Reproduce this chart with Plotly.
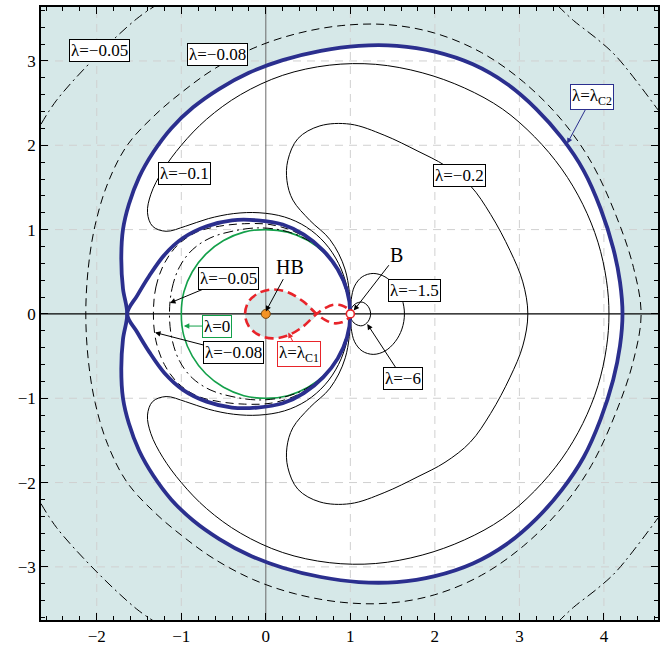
import plotly.graph_objects as go

# ---- axes -------------------------------------------------------------
x_range = [-2.66, 4.64]
y_range = [-3.63, 3.64]
x_ticks = [-2, -1, 0, 1, 2, 3, 4]
y_ticks = [-3, -2, -1, 0, 1, 2, 3]

# ---- level curves (upper halves; every curve is symmetric in y) -------
# lambda = lambda_c2, outer loop: saddle -> over the top -> right axis
c2_outer_x = [-1.64, -1.69, -1.71, -1.69, -1.62, -1.50, -1.33, -1.12, -0.86, -0.55, -0.2,
              0.2, 0.65, 1.1, 1.55, 2.0, 2.45, 2.85, 3.2, 3.5, 3.76, 3.96, 4.11, 4.19, 4.22]
c2_outer_y = [0.0, 0.3, 0.65, 1.0, 1.3, 1.62, 1.92, 2.2, 2.45, 2.67, 2.86,
              3.01, 3.12, 3.18, 3.18, 3.11, 2.96, 2.73, 2.43, 2.09, 1.7, 1.25, 0.78, 0.38, 0.0]
# lambda = lambda_c2, inner loop: saddle -> top -> B
c2_inner_x = [-1.64, -1.52, -1.38, -1.2, -0.98, -0.7, -0.4, -0.1, 0.2, 0.45, 0.68, 0.85, 0.96, 1.0]
c2_inner_y = [0.0, 0.22, 0.45, 0.7, 0.9, 1.04, 1.11, 1.11, 1.06, 0.94, 0.75, 0.53, 0.28, 0.0]

# lambda = 0 (unit circle)
l0_x = [-1.0, -0.97, -0.87, -0.71, -0.5, -0.26, 0.0, 0.26, 0.5, 0.71, 0.87, 0.97, 1.0]
l0_y = [0.0, 0.26, 0.5, 0.71, 0.87, 0.97, 1.0, 0.97, 0.87, 0.71, 0.5, 0.26, 0.0]

# lambda = -0.05 / -0.08, inner branches (left axis -> top -> B)
l005_in_x = [-1.14, -1.11, -1.02, -0.87, -0.66, -0.4, -0.1, 0.2, 0.47, 0.7, 0.87, 0.97, 1.0]
l005_in_y = [0.0, 0.3, 0.56, 0.76, 0.9, 0.98, 1.02, 0.99, 0.89, 0.72, 0.5, 0.25, 0.0]
l008_in_x = [-1.33, -1.3, -1.2, -1.04, -0.82, -0.55, -0.25, 0.05, 0.33, 0.58, 0.79, 0.93, 1.0]
l008_in_y = [0.0, 0.32, 0.6, 0.82, 0.97, 1.04, 1.07, 1.06, 0.98, 0.83, 0.61, 0.33, 0.0]

# lambda = -0.08, outer branch (left axis -> right axis)
l008_out_x = [-2.13, -2.1, -2.02, -1.87, -1.64, -1.31, -0.98, -0.62, -0.15, 0.35, 0.9,
              1.45, 2.0, 2.55, 3.05, 3.5, 3.85, 4.15, 4.35, 4.44]
l008_out_y = [0.0, 0.55, 1.05, 1.55, 2.0, 2.36, 2.64, 2.9, 3.15, 3.32, 3.42,
              3.43, 3.33, 3.1, 2.75, 2.3, 1.8, 1.15, 0.55, 0.0]

# lambda = -0.05, outer branch: only the arcs in the corners are in view
l005_out_tl_x = [-2.66, -2.475, -2.0, -1.528, -1.30]
l005_out_tl_y = [2.25, 2.535, 3.06, 3.50, 3.66]
l005_out_tr_x = [3.45, 3.64, 3.92, 4.15, 4.64]
l005_out_tr_y = [3.66, 3.48, 3.26, 3.05, 2.42]

# lambda = -0.1 (right axis -> top -> left bend -> along inner loop -> B)
l01_x = [4.06, 4.03, 3.93, 3.75, 3.5, 3.18, 2.8, 2.35, 1.85, 1.3, 0.75, 0.2, -0.3, -0.7,
         -1.0, -1.22, -1.36, -1.4, -1.34, -1.18, -0.95, -0.68, -0.38, -0.08, 0.22, 0.48,
         0.7, 0.86, 0.96, 1.0]
l01_y = [0.0, 0.4, 0.85, 1.3, 1.72, 2.1, 2.43, 2.68, 2.86, 2.96, 2.95, 2.83, 2.6, 2.31,
         2.0, 1.7, 1.42, 1.2, 1.04, 0.98, 1.04, 1.13, 1.19, 1.2, 1.15, 1.03,
         0.84, 0.6, 0.32, 0.0]

# lambda = -0.2 (right axis -> top -> neck -> B)
l02_x = [3.10, 3.04, 2.89, 2.66, 2.42, 2.12, 1.8, 1.4, 1.0, 0.64, 0.38, 0.26, 0.25, 0.32,
         0.52, 0.76, 0.94, 1.0]
l02_y = [0.0, 0.38, 0.75, 1.18, 1.52, 1.76, 1.93, 2.12, 2.25, 2.23, 2.08, 1.82, 1.58, 1.35,
         1.11, 0.88, 0.52, 0.0]

# lambda = -1.5 and lambda = -6 (small loops through B)
l15_x = [1.64, 1.61, 1.53, 1.41, 1.27, 1.14, 1.05, 1.01, 1.0]
l15_y = [0.0, 0.18, 0.33, 0.44, 0.48, 0.44, 0.33, 0.17, 0.0]
l6_x = [1.24, 1.21, 1.14, 1.06, 1.01, 1.0]
l6_y = [0.0, 0.09, 0.14, 0.12, 0.06, 0.0]

# lambda = lambda_c1 figure-eight: left lobe (crossing -> leftmost), right lobe (crossing -> B)
c1_left_x = [0.6, 0.44, 0.25, 0.08, -0.08, -0.2, -0.246]
c1_left_y = [0.0, 0.15, 0.26, 0.29, 0.25, 0.15, 0.0]
c1_right_x = [0.6, 0.7, 0.8, 0.9, 0.97, 1.0]
c1_right_y = [0.0, 0.07, 0.11, 0.1, 0.06, 0.0]

# special points
hb_point = (0.0, 0.0)
b_point = (1.0, 0.0)

# ---- styles -----------------------------------------------------------
TEAL = "#d6e8e8"
BLUE = "#2b2f8e"
RED = "#e8242a"
GREEN = "#13a04a"
SERIF = "Liberation Serif, Times New Roman, serif"


def closed_symmetric(xs, ys):
    """Upper half plus its mirror image, traversed back to the start."""
    return list(xs) + list(xs[-2::-1]), list(ys) + [-v for v in ys[-2::-1]]


fig = go.Figure()


def curve(xy, color="black", width=1.0, dash="solid", fill=None, fillcolor=None):
    x, y = xy
    fig.add_trace(go.Scatter(
        x=x, y=y, mode="lines",
        line=dict(color=color, width=width, dash=dash, shape="spline", smoothing=1.0),
        fill=fill, fillcolor=fillcolor, hoverinfo="skip", showlegend=False))


outer_loop = closed_symmetric(c2_outer_x, c2_outer_y)
inner_loop = closed_symmetric(c2_inner_x, c2_inner_y)
left_lobe = closed_symmetric(c1_left_x, c1_left_y)
right_lobe = closed_symmetric(c1_right_x, c1_right_y)

# region enclosed by the outer critical loop is unshaded; the HB lobe is shaded
curve(outer_loop, color="rgba(0,0,0,0)", width=0, fill="toself", fillcolor="white")
curve(left_lobe, color="rgba(0,0,0,0)", width=0, fill="toself", fillcolor=TEAL)

# dashed grid at the major ticks
gx, gy = [], []
for v in x_ticks:
    if v != 0:
        gx += [v, v, None]
        gy += [y_range[0], y_range[1], None]
for v in y_ticks:
    if v != 0:
        gx += [x_range[0], x_range[1], None]
        gy += [v, v, None]
fig.add_trace(go.Scatter(x=gx, y=gy, mode="lines",
                         line=dict(color="#d0d0d0", width=1, dash="8px,6px"),
                         hoverinfo="skip", showlegend=False))
# coordinate axes through the origin
fig.add_trace(go.Scatter(x=[0, 0], y=y_range, mode="lines",
                         line=dict(color="#6a6a6a", width=1),
                         hoverinfo="skip", showlegend=False))
fig.add_trace(go.Scatter(x=x_range, y=[0, 0], mode="lines",
                         line=dict(color="black", width=1.2),
                         hoverinfo="skip", showlegend=False))

# thin level curves
DASH = "8px,5px"
DASHDOT = "10px,4px,2px,4px"
curve(closed_symmetric(l0_x, l0_y), color=GREEN, width=1.6)
curve(closed_symmetric(l005_in_x, l005_in_y), dash=DASHDOT)
curve(closed_symmetric(l008_in_x, l008_in_y), dash=DASH)
curve(closed_symmetric(l008_out_x, l008_out_y), dash=DASH)
ox = (l005_out_tl_x + [None] + l005_out_tr_x + [None] + l005_out_tl_x + [None] + l005_out_tr_x)
oy = (l005_out_tl_y + [None] + l005_out_tr_y + [None]
      + [-v for v in l005_out_tl_y] + [None] + [-v for v in l005_out_tr_y])
curve((ox, oy), dash=DASHDOT)
curve(closed_symmetric(l01_x, l01_y))
curve(closed_symmetric(l02_x, l02_y))
curve(closed_symmetric(l15_x, l15_y))
curve(closed_symmetric(l6_x, l6_y))

# critical curve lambda_c2
curve(outer_loop, color=BLUE, width=3.8)
curve(inner_loop, color=BLUE, width=3.8)

# critical curve lambda_c1 (figure eight)
eight = (right_lobe[0] + left_lobe[0][1:], right_lobe[1] + left_lobe[1][1:])
curve(eight, color=RED, width=2.6, dash="9px,5px")

# special points
fig.add_trace(go.Scatter(x=[hb_point[0]], y=[hb_point[1]], mode="markers",
                         marker=dict(size=9, color="#f39324", line=dict(color="#7a4a10", width=1)),
                         hoverinfo="skip", showlegend=False))
fig.add_trace(go.Scatter(x=[b_point[0]], y=[b_point[1]], mode="markers",
                         marker=dict(size=8, color="white", line=dict(color=RED, width=1.6)),
                         hoverinfo="skip", showlegend=False))


# ---- labels -----------------------------------------------------------
def label(text, x, y, border="black", tip=None, arrow_color="black", box=True, size=17):
    kw = dict(text=text, font=dict(family=SERIF, size=size, color="black"))
    if box:
        kw.update(bgcolor="white", bordercolor=border, borderwidth=1, borderpad=1)
    if tip is None:
        fig.add_annotation(x=x, y=y, showarrow=False, **kw)
    else:
        fig.add_annotation(x=tip[0], y=tip[1], ax=x, ay=y, axref="x", ayref="y",
                           showarrow=True, arrowhead=2, arrowsize=1.1, arrowwidth=1,
                           arrowcolor=arrow_color, standoff=0, **kw)


label("λ=−0.05", -1.973, 3.12)
label("λ=−0.08", -0.569, 3.073)
label("λ=λ<sub>C2</sub>", 3.86, 2.57, border=BLUE, tip=(3.565, 2.02), arrow_color=BLUE)
label("λ=−0.1", -0.968, 1.668)
label("λ=−0.2", 2.287, 1.645)
label("HB", 0.286, 0.56, tip=(0.0, 0.03), box=False, size=20)
label("B", 1.55, 0.70, tip=(1.04, 0.04), box=False, size=20)
label("λ=−1.5", 1.754, 0.279)
label("λ=−6", 1.624, -0.77, tip=(1.2, -0.12))
label("λ=−0.05", -0.438, 0.42, tip=(-1.134, 0.13))
label("λ=0", -0.581, -0.144, border=GREEN, tip=(-0.97, -0.144), arrow_color=GREEN)
label("λ=−0.08", -0.379, -0.462, tip=(-1.311, -0.22))
label("λ=λ<sub>C1</sub>", 0.39, -0.47, border=RED, tip=(0.266, -0.22), arrow_color=RED)

# ---- layout -----------------------------------------------------------
axis_common = dict(showgrid=False, zeroline=False, showline=True, linecolor="black",
                   linewidth=1.5, mirror="allticks", ticks="inside", ticklen=7,
                   tickwidth=1, tickcolor="black",
                   tickfont=dict(family=SERIF, size=17, color="black"),
                   minor=dict(ticks="inside", ticklen=4, dtick=0.2, tickcolor="black"))
fig.update_xaxes(range=x_range, tickvals=x_ticks, **axis_common)
fig.update_yaxes(range=y_range, tickvals=y_ticks, **axis_common)
fig.update_layout(width=667, height=651, margin=dict(l=41, r=9, t=5, b=28),
                  plot_bgcolor=TEAL, paper_bgcolor="white", showlegend=False)

fig.write_html("out.html")
